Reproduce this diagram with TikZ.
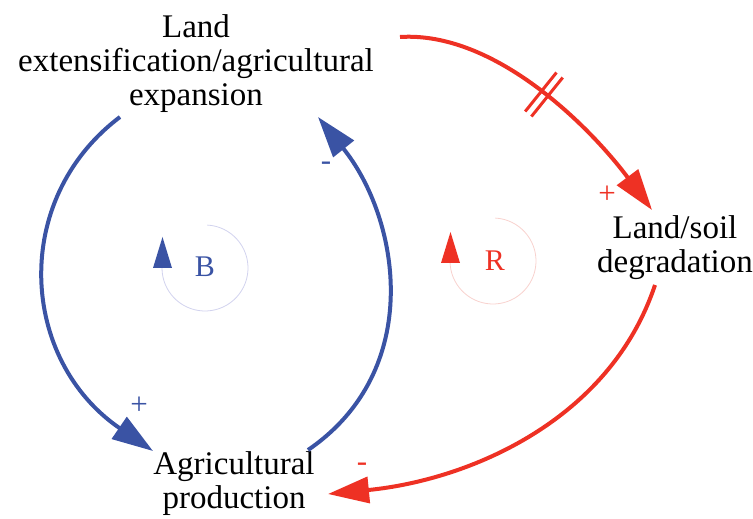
\documentclass[tikz,border=0pt]{standalone}
\usepackage{fontspec}
\setmainfont{Liberation Serif}
\usetikzlibrary{arrows.meta,decorations.markings}
\definecolor{loopblue}{HTML}{3A53A4}
\definecolor{loopred}{HTML}{EE3124}
\definecolor{ringblue}{HTML}{D2D3EE}
\definecolor{ringred}{HTML}{F8D2CE}
\tikzset{
  label/.style={align=center, font=\fontsize{33}{34}\selectfont, inner sep=0pt, anchor=base},
  sign/.style={font=\fontsize{31}{31}\selectfont, inner sep=0pt},
  looptag/.style={font=\fontsize{30}{30}\selectfont, inner sep=0pt},
  link/.style={line width=4pt, -{Triangle[length=41pt,width=26pt]}},
  ring/.style={line width=0.8pt},
  delay/.style={postaction={decorate, decoration={markings, mark=at position 0.5 with {
      \draw[-, line width=3pt] (-4pt,-25pt) -- (-4pt,25pt);
      \draw[-, line width=3pt] (4pt,-25pt) -- (4pt,25pt);}}}}
}
\begin{document}
\begin{tikzpicture}[x=1pt,y=1pt]
\useasboundingbox (0,0) rectangle (753,519);
% variables (anchored at the baseline of their last line)
\node[label] (land) at (196,413) {Land\\extensification/agricultural\\expansion};
\node[label] (soil) at (675,246) {Land/soil\\degradation};
\node[label] (agri) at (234,10) {Agricultural\\production};
% connector end points
\coordinate (b1s) at (120,402);
\coordinate (b1e) at (153,68);
\coordinate (b2s) at (308,69);
\coordinate (b2e) at (318,402);
\coordinate (r1s) at (400,482);
\coordinate (r1e) at (652,309);
\coordinate (r2s) at (655,234);
\coordinate (r2e) at (328,25);
% balancing loop (blue)
\draw[link, loopblue] (b1s) .. controls (10,319) and (20,159) .. (b1e);
\draw[link, loopblue] (b2s) .. controls (425,149) and (400,300) .. (b2e);
% reinforcing loop (red)
\draw[link, loopred, delay] (r1s) .. controls (495,488) and (590,392) .. (r1e);
\draw[link, loopred] (r2s) .. controls (610,99) and (470,39) .. (r2e);
% polarities
\node[sign, loopblue] (p1) at (139,113) {+};
\node[sign, loopblue] (p2) at (326,353) {-};
\node[sign, loopred] (p3) at (607,324) {+};
\node[sign, loopred] (p4) at (362,52) {-};
% loop markers
\coordinate (bc) at (205,251);
\draw[ring, ringblue] (bc) ++(87:43) arc[start angle=87, end angle=-180, radius=43];
\fill[loopblue] (153,251) -- (172,251) -- (162.5,282) -- cycle;
\node[looptag, text=loopblue] (bl) at (205,252) {B};
\coordinate (rc) at (493,258);
\draw[ring, ringred] (rc) ++(87:43) arc[start angle=87, end angle=-180, radius=43];
\fill[loopred] (441,256) -- (460,256) -- (450.5,287) -- cycle;
\node[looptag, text=loopred] (rl) at (495,258) {R};
\end{tikzpicture}
\end{document}
